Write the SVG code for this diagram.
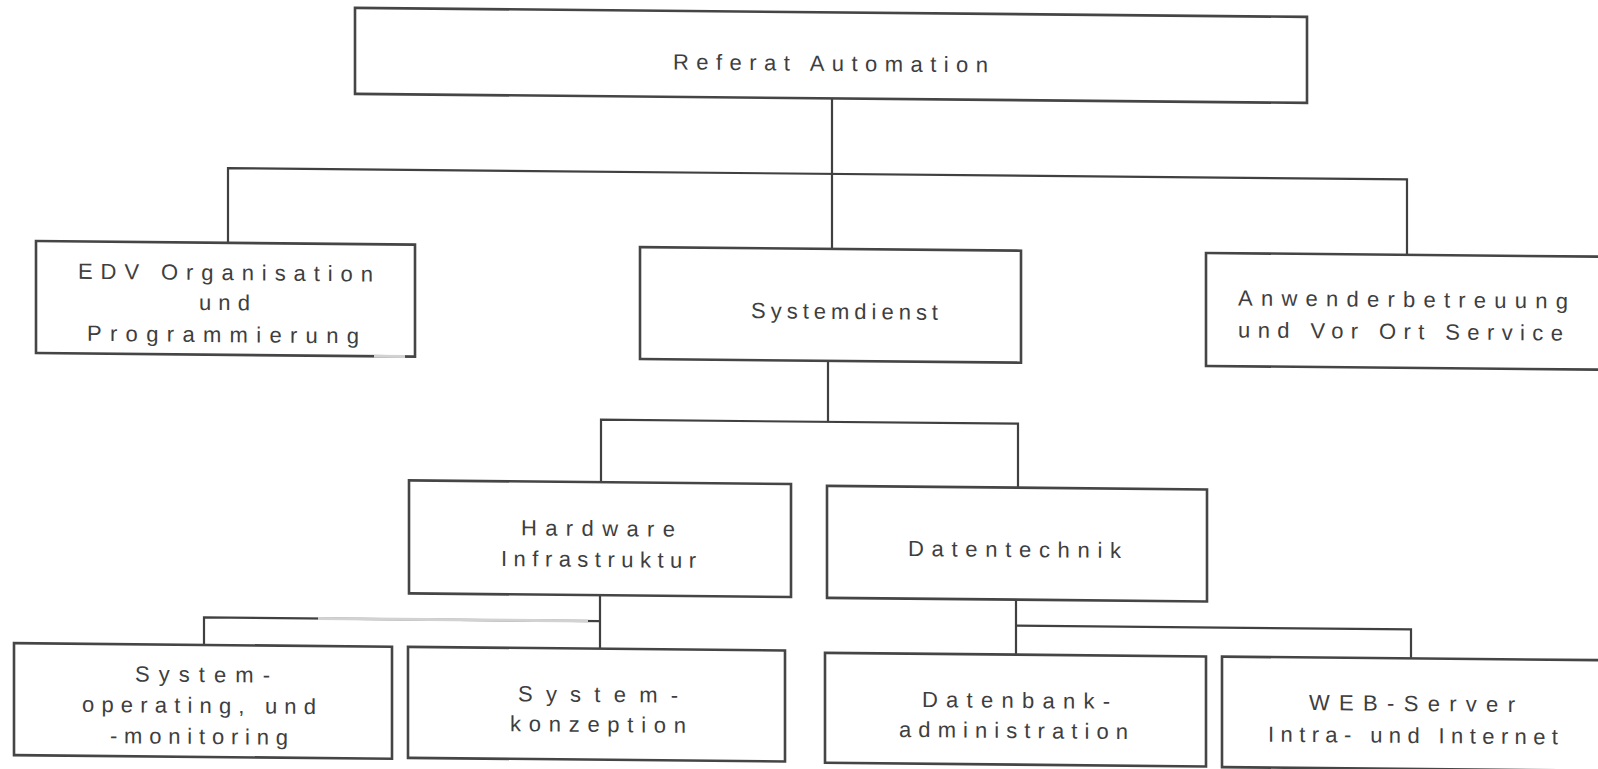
<svg xmlns="http://www.w3.org/2000/svg" width="1598" height="769" viewBox="0 0 1598 769">
  <style>
    .box { fill: #ffffff; stroke: #454545; stroke-width: 2.6; }
    .wire { fill: none; stroke: #404040; stroke-width: 2.2; }
    .fade { fill: none; stroke: #d2d2d2; stroke-width: 3; }
    .lbl { font-family: "Liberation Sans", Arial, sans-serif; font-size: 22px; fill: #3e3e3e; }
  </style>
  <rect width="1598" height="769" fill="#ffffff"/>
  <!-- whole chart sits on a slight slope -->
  <g transform="skewY(0.544)">
    <g id="connectors">
      <path class="wire" d="M832 90.5 V241"/>
      <path class="wire" d="M228 240.7 V166 H1407 V241.5"/>
      <path class="wire" d="M828 353 V414"/>
      <path class="wire" d="M601 476.5 V414 H1018 V478"/>
      <path class="wire" d="M600 589.5 V643"/>
      <path class="wire" d="M204 643 V615.5 H600"/>
      <path class="fade" d="M318 615.5 H588"/>
      <path class="wire" d="M1016 590 V645"/>
      <path class="wire" d="M1016 616 H1411 V645"/>
    </g>

    <g id="referat-automation">
      <rect class="box" x="355" y="4.5" width="952" height="86"/>
      <text class="lbl" x="673" y="63" textLength="315" lengthAdjust="spacing">Referat Automation</text>
    </g>

    <g id="edv-organisation">
      <rect class="box" x="36" y="240.7" width="379" height="112"/>
      <path class="fade" d="M374 352.7 H405"/>
      <text class="lbl" x="78" y="278" textLength="295" lengthAdjust="spacing">EDV Organisation</text>
      <text class="lbl" x="199" y="308" textLength="51" lengthAdjust="spacing">und</text>
      <text class="lbl" x="87" y="340" textLength="272" lengthAdjust="spacing">Programmierung</text>
    </g>

    <g id="systemdienst">
      <rect class="box" x="640" y="241" width="381" height="112"/>
      <text class="lbl" x="751" y="311" textLength="187" lengthAdjust="spacing">Systemdienst</text>
    </g>

    <g id="anwenderbetreuung">
      <rect class="box" x="1206" y="241.5" width="402" height="113"/>
      <text class="lbl" x="1238" y="293.7" textLength="330" lengthAdjust="spacing">Anwenderbetreuung</text>
      <text class="lbl" x="1238" y="325.7" textLength="325" lengthAdjust="spacing">und Vor Ort Service</text>
    </g>

    <g id="hardware-infrastruktur">
      <rect class="box" x="409" y="476.5" width="382" height="113"/>
      <text class="lbl" x="521" y="530.3" textLength="154" lengthAdjust="spacing">Hardware</text>
      <text class="lbl" x="501" y="561.3" textLength="195" lengthAdjust="spacing">Infrastruktur</text>
    </g>

    <g id="datentechnik">
      <rect class="box" x="827" y="478" width="380" height="112"/>
      <text class="lbl" x="908" y="547.4" textLength="213" lengthAdjust="spacing">Datentechnik</text>
    </g>

    <g id="system-operating">
      <rect class="box" x="14" y="643" width="378" height="112"/>
      <text class="lbl" x="135" y="680.1" textLength="135" lengthAdjust="spacing">System-</text>
      <text class="lbl" x="82" y="711.1" textLength="234" lengthAdjust="spacing">operating, und</text>
      <text class="lbl" x="110" y="742.1" textLength="178" lengthAdjust="spacing">-monitoring</text>
    </g>

    <g id="systemkonzeption">
      <rect class="box" x="408" y="643" width="377" height="111"/>
      <text class="lbl" x="518" y="696.3" textLength="160" lengthAdjust="spacing">System-</text>
      <text class="lbl" x="510" y="726.3" textLength="176" lengthAdjust="spacing">konzeption</text>
    </g>

    <g id="datenbankadministration">
      <rect class="box" x="825" y="645" width="381" height="110"/>
      <text class="lbl" x="922" y="698.3" textLength="188" lengthAdjust="spacing">Datenbank-</text>
      <text class="lbl" x="899" y="728.4" textLength="229" lengthAdjust="spacing">administration</text>
    </g>

    <g id="web-server">
      <rect class="box" x="1222" y="645" width="386" height="110.5"/>
      <text class="lbl" x="1309" y="697.6" textLength="206" lengthAdjust="spacing">WEB-Server</text>
      <text class="lbl" x="1268" y="729.6" textLength="290" lengthAdjust="spacing">Intra- und Internet</text>
    </g>
  </g>
</svg>
